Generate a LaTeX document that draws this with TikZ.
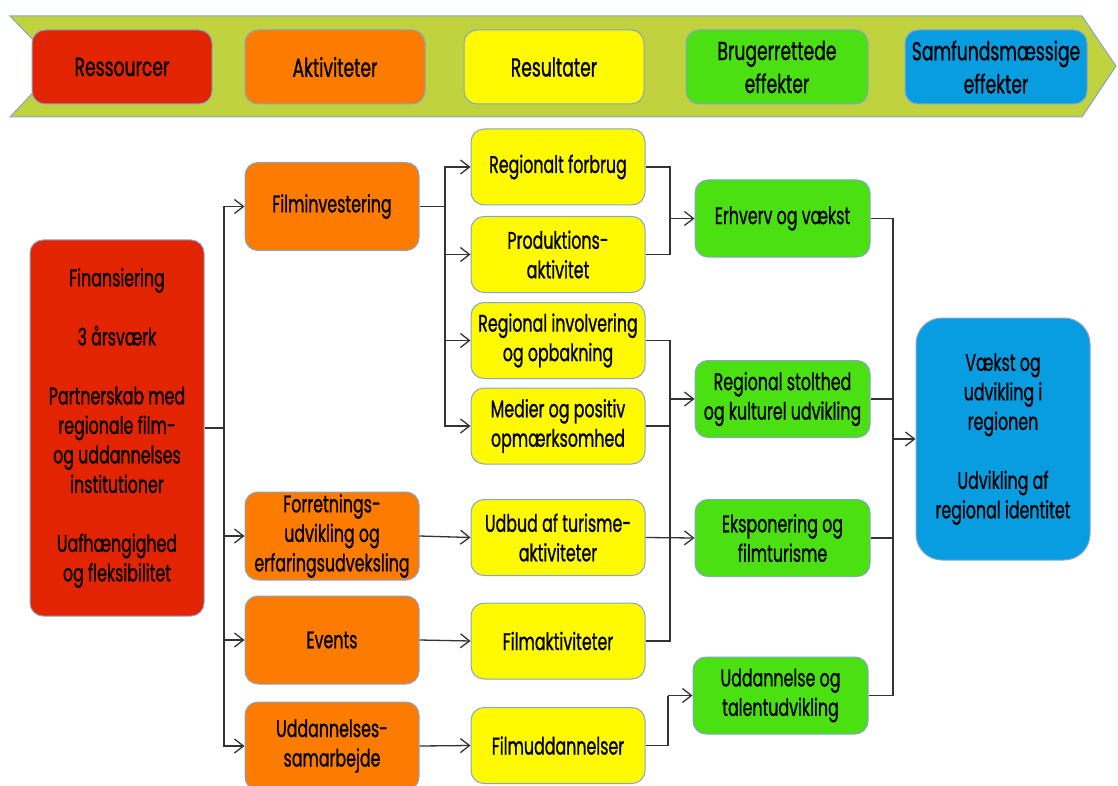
\documentclass[tikz,border=0pt]{standalone}
\usepackage{fontspec}
\setmainfont{Poppins}[FakeStretch=0.66, FakeBold=0.8]
\usetikzlibrary{arrows.meta}
\definecolor{cred}{HTML}{E32400}
\definecolor{corange}{HTML}{FD7C00}
\definecolor{cyellow}{HTML}{FFFA00}
\definecolor{cgreen}{HTML}{4BE012}
\definecolor{cblue}{HTML}{089DE0}
\definecolor{cband}{HTML}{C0D23E}
\definecolor{cedge}{HTML}{86A4CC}
\begin{document}
\begin{tikzpicture}[x=1pt,y=-1pt,
  box/.style={draw=cedge, line width=1pt, rounded corners=13pt, align=center,
    inner sep=0pt, text=black, font=\fontsize{24}{29.5}\selectfont},
  ow/.style={box, minimum width=174pt, minimum height=88pt, fill=corange},
  yw/.style={box, minimum width=174pt, minimum height=76pt, fill=cyellow},
  gw/.style={box, minimum width=175pt, minimum height=77pt, fill=cgreen},
  hd/.style={box, minimum width=180pt, minimum height=74pt, font=\fontsize{26}{33}\selectfont},
  conn/.style={draw=black!80, line width=1.3pt},
  arr/.style={conn, -{Straight Barb[length=9pt,width=14pt]}}]
\useasboundingbox (0,0) rectangle (1118,786);
% banner
\draw[draw=cedge, line width=1pt, fill=cband] (10,16) -- (1082,16) -- (1116,66) -- (1082,117) -- (10,117) -- (58,66) -- cycle;
\node[hd, fill=cred] (h1) at (122,67) {Ressourcer};
\node[hd, fill=corange] (h2) at (335,67) {Aktiviteter};
\node[hd, fill=cyellow] (h3) at (554,67) {Resultater};
\node[hd, minimum width=182pt, fill=cgreen] (h4) at (777,67) {Brugerrettede\\effekter};
\node[hd, minimum width=182pt, fill=cblue] (h5) at (996,67) {Samfundsmæssige\\effekter};
% resources
\node[box, fill=cred, minimum width=174pt, minimum height=376pt] (res) at (117,428)
  {Finansiering\\[29.5pt]3 årsværk\\[29.5pt]Partnerskab med\\regionale film-\\og uddannelses\\institutioner\\[29.5pt]Uafhængighed\\og fleksibilitet};
% activities
\node[ow] (fi) at (332,206.5) {Filminvestering};
\node[ow] (fo) at (332,536) {Forretnings-\\udvikling og\\erfaringsudveksling};
\node[ow] (ev) at (332,640) {Events};
\node[ow] (us) at (332,746) {Uddannelses-\\samarbejde};
% results
\node[yw] (rf) at (558,167) {Regionalt forbrug};
\node[yw] (pa) at (558,254.5) {Produktions-\\aktivitet};
\node[yw] (ri) at (558,340.5) {Regional involvering\\og opbakning};
\node[yw] (me) at (558,426) {Medier og positiv\\opmærksomhed};
\node[yw] (ut) at (558,537.5) {Udbud af turisme-\\aktiviteter};
\node[yw] (fa) at (558,641) {Filmaktiviteter};
\node[yw] (fu) at (558,745.5) {Filmuddannelser};
% user effects
\node[gw] (er) at (782.5,218.5) {Erhverv og vækst};
\node[gw] (rs) at (782.5,399) {Regional stolthed\\og kulturel udvikling};
\node[gw] (ek) at (782.5,538) {Eksponering og\\filmturisme};
\node[gw] (tu) at (780.5,695.5) {Uddannelse og\\talentudvikling};
% societal
\node[box, fill=cblue, minimum width=174pt, minimum height=242pt, rounded corners=26pt] (so) at (1003,439)
  {Vækst og\\udvikling i\\regionen\\[29.5pt]Udvikling af\\regional identitet};
% junctions
\coordinate (j1) at (224,428);
\coordinate (j2) at (445,206.5);
\coordinate (k1) at (670,218.5);
\coordinate (k2) at (670,399);
\coordinate (k3) at (670,538);
\coordinate (k4) at (668,695.5);
\coordinate (m) at (893,439);
% connectors
\draw[conn] (res.east) -- (j1);
\draw[arr] (j1) |- (fi.west);
\draw[arr] (j1) |- (fo.west);
\draw[arr] (j1) |- (ev.west);
\draw[arr] (j1) |- (us.west);
\draw[conn] (fi.east) -- (j2);
\draw[arr] (j2) |- (rf.west);
\draw[arr] (j2) |- (pa.west);
\draw[arr] (j2) |- (ri.west);
\draw[arr] (j2) |- (me.west);
\draw[arr] (fo.east) -- (ut.west);
\draw[arr] (ev.east) -- (fa.west);
\draw[arr] (us.east) -- (fu.west);
\draw[conn] (rf.east) -| (k1);
\draw[conn] (pa.east) -| (k1);
\draw[arr] (k1) -- (er.west);
\draw[conn] (ri.east) -| (k2);
\draw[conn] (me.east) -| (k2);
\draw[arr] (k2) -- (rs.west);
\draw[conn] (me.east) -| (k3);
\draw[conn] (fa.east) -| (k3);
\draw[arr] (ut.east) -- (ek.west);
\draw[conn] (fu.east) -| (k4);
\draw[arr] (k4) -- (tu.west);
\draw[conn] (er.east) -| (m);
\draw[conn] (rs.east) -| (m);
\draw[conn] (ek.east) -| (m);
\draw[conn] (tu.east) -| (m);
\draw[arr] (m) -- (so.west);
\end{tikzpicture}
\end{document}
